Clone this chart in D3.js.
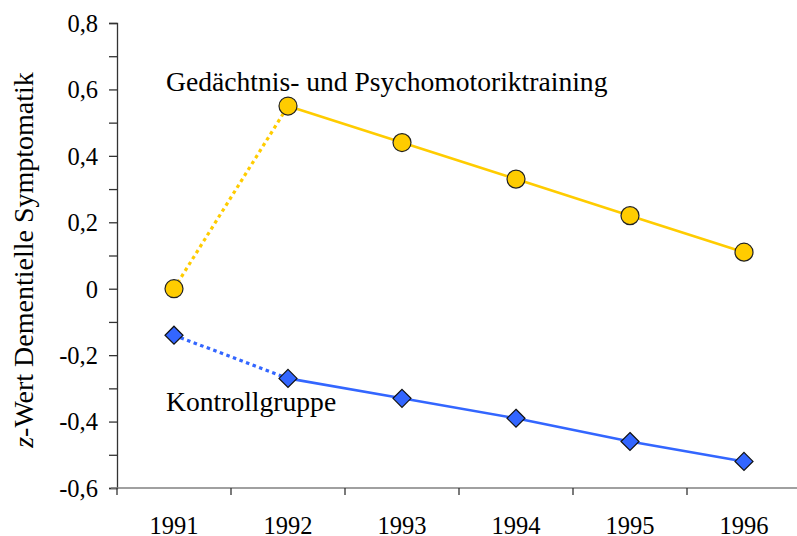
<!DOCTYPE html>
<html><head><meta charset="utf-8">
<script src="https://cdn.jsdelivr.net/npm/d3@7"></script>
<style>body{margin:0;background:#fff}svg{display:block}</style>
</head><body>
<svg id="c" width="797" height="536"></svg>
<script>
const years = ["1991","1992","1993","1994","1995","1996"];
const trainingValues = [0, 0.55, 0.44, 0.33, 0.22, 0.11];
const controlValues = [-0.14, -0.27, -0.33, -0.39, -0.46, -0.52];
const yTicks = [0.8, 0.6, 0.4, 0.2, 0, -0.2, -0.4, -0.6];
const yMinorTicks = [0.7, 0.5, 0.3, 0.1, -0.1, -0.3, -0.5];
const trainingLabel = "Gedächtnis- und Psychomotoriktraining";
const controlLabel = "Kontrollgruppe";

const svg = d3.select("#c");
const font = "'Liberation Serif','Times New Roman',serif";
const x = d3.scaleBand().domain(years).range([117, 801]).padding(0);
const y = d3.scaleLinear().domain([-0.6, 0.8]).range([488, 23]);
const cx = d => x(d) + x.bandwidth() / 2;
const fmt = v => v === 0 ? "0" : d3.format(".1f")(v).replace(".", ",").replace("−", "-");

// y axis
const yAxis = svg.append("g").attr("transform", "translate(117,0)")
  .call(d3.axisLeft(y).tickValues(yTicks.concat(yMinorTicks)).tickSize(8).tickPadding(11)
    .tickFormat(v => yTicks.includes(v) ? fmt(v) : ""));
yAxis.select(".domain").attr("stroke", "#333").attr("stroke-width", 1.3);
yAxis.selectAll(".tick line").attr("stroke", "#333").attr("stroke-width", 1.3);
yAxis.selectAll("text").attr("font-family", font).attr("font-size", 24.5).attr("fill", "#000")
  .attr("dy", "0.34em");

// x axis
const xAxis = svg.append("g").attr("transform", "translate(0,488)");
xAxis.append("line").attr("x1", 111).attr("x2", 797).attr("y1", 0).attr("y2", 0)
  .attr("stroke", "#808080").attr("stroke-width", 1.6);
const xTickPos = years.map(d => x(d)).concat([x(years[years.length-1]) + x.bandwidth()]);
xAxis.selectAll("line.t").data(xTickPos).join("line").attr("class","t")
  .attr("x1", d => d).attr("x2", d => d).attr("y1", 0).attr("y2", 7)
  .attr("stroke", "#333").attr("stroke-width", 1.3);
xAxis.selectAll("text").data(years).join("text")
  .attr("x", d => cx(d)).attr("y", 46).attr("text-anchor", "middle")
  .attr("font-family", font).attr("font-size", 24.5).text(d => d);

// y title
const yt = svg.append("text").attr("transform", "translate(33,260) rotate(-90)")
  .attr("text-anchor", "middle").attr("font-family", font).attr("font-size", 28);
yt.append("tspan").attr("font-style", "italic").text("z");
yt.append("tspan").text("-Wert Dementielle Symptomatik");

function series(vals, color) {
  const pts = years.map((d, i) => [cx(d), y(vals[i])]);
  const line = d3.line();
  svg.append("path").attr("d", line(pts.slice(0, 2))).attr("fill", "none")
    .attr("stroke", color).attr("stroke-width", 3.2).attr("stroke-dasharray", "3.5,3.5");
  svg.append("path").attr("d", line(pts.slice(1))).attr("fill", "none")
    .attr("stroke", color).attr("stroke-width", 2.6);
  return pts;
}

const tp = series(trainingValues, "#FFCC00");
const cp = series(controlValues, "#3366FF");

svg.selectAll("circle.m").data(tp).join("circle").attr("class","m")
  .attr("cx", d => d[0]).attr("cy", d => d[1]).attr("r", 9)
  .attr("fill", "#FFCC00").attr("stroke", "#222").attr("stroke-width", 1.2);
svg.selectAll("path.dm").data(cp).join("path").attr("class","dm")
  .attr("d", d => `M${d[0]},${d[1]-9}L${d[0]+9},${d[1]}L${d[0]},${d[1]+9}L${d[0]-9},${d[1]}Z`)
  .attr("fill", "#3366FF").attr("stroke", "#111").attr("stroke-width", 1.2);

svg.append("text").attr("x", 166).attr("y", 91).attr("font-family", font).attr("font-size", 27.6)
  .text(trainingLabel);
svg.append("text").attr("x", 166).attr("y", 411).attr("font-family", font).attr("font-size", 27.6)
  .text(controlLabel);
</script>
</body></html>
